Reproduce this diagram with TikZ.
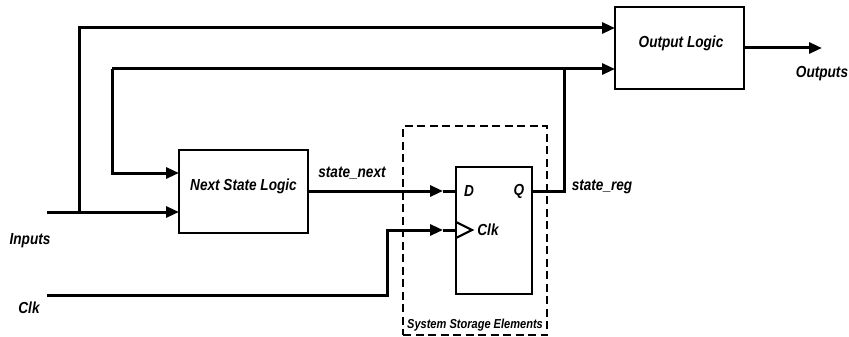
\documentclass[tikz,border=0pt]{standalone}
\usepackage{fontspec}
\setmainfont[FakeStretch=0.85]{Liberation Sans}
\usetikzlibrary{arrows.meta,calc}
\tikzset{
  wire/.style={line width=3pt},
  arr/.style={wire,-{Triangle[length=13pt,width=11pt]}},
  blockbox/.style={draw,line width=2.8pt,inner sep=0pt,outer sep=0pt},
  lbl/.style={font=\fontsize{16}{18}\selectfont\bfseries\itshape,inner sep=0pt},
  slbl/.style={font=\fontsize{13}{15}\selectfont\bfseries\itshape,inner sep=0pt},
}
\begin{document}
\begin{tikzpicture}[x=1pt,y=-1pt]
\useasboundingbox (0,0) rectangle (849,337);
% blocks
\node[blockbox,minimum width=129pt,minimum height=83pt] (nsl) at (243.5,191.5) {};
\node[blockbox,minimum width=129pt,minimum height=82pt] (ol) at (679.5,48) {};
\node[blockbox,minimum width=76pt,minimum height=127pt] (ff) at (494,230.5) {};
\node[draw,line width=1.5pt,dash pattern=on 8pt off 4.5pt,minimum width=144pt,minimum height=209pt,inner sep=0pt] (store) at (475,230.5) {};
% texts
\node[lbl] (tnsl) at (243.5,186) {Next State Logic};
\node[lbl] (tol) at (681,43) {Output Logic};
\node[lbl] (tsn) at (352,173) {state\_next};
\node[lbl] (tsr) at (602,187) {state\_reg};
\node[lbl] (tin) at (30,241) {Inputs};
\node[lbl] (tclk) at (29,308) {Clk};
\node[lbl] (tout) at (822,74) {Outputs};
\node[lbl] (td) at (469,191) {D};
\node[lbl] (tq) at (519,191) {Q};
\node[lbl] (tck) at (488,230) {Clk};
\node[slbl] (tst) at (475,325) {System Storage Elements};
% coordinates
\coordinate (in0) at (47,212);
\coordinate (jin) at (79,212);
\coordinate (top) at (79,28);
\coordinate (qo) at (564,191);
\coordinate (fb) at (564,69);
\coordinate (fbl) at (112,69);
\coordinate (fbd) at (112,173);
\coordinate (dtip) at (443,191);
\coordinate (ck0) at (47,295);
\coordinate (ck1) at (387,295);
\coordinate (ck2) at (387,230);
\coordinate (cktip) at (443,230);
\coordinate (outE) at (822,48);
% connectors
\draw[arr] (in0) -- (in0 -| nsl.west);
\draw[arr] (jin) -- (top) -- (top -| ol.west);
\draw[wire] (ff.east |- qo) -- (qo) -- (fb);
\draw[arr] (fbl) -- (fbl -| ol.west);
\draw[arr] (fbl) -- (fbd) -- (fbd -| nsl.west);
\draw[arr] (nsl.east |- dtip) -- (dtip);
\draw[wire] (dtip) -- (dtip -| ff.west);
\draw[arr] (ck0) -- (ck1) -- (ck2) -- (cktip);
\draw[wire] (cktip) -- (cktip -| ff.west);
\draw[arr] (ol.east |- outE) -- (outE);
% clock triangle
\draw[line width=2.2pt,line join=miter] (456,222) -- (472,230) -- (456,238);
\end{tikzpicture}
\end{document}
